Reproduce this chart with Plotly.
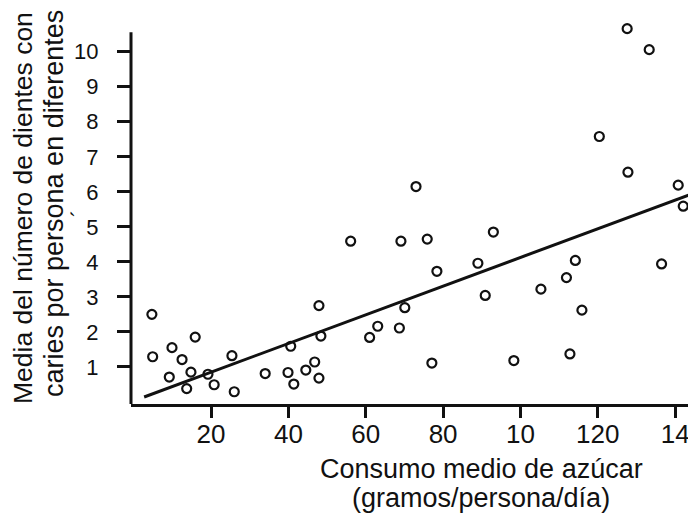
import plotly.graph_objects as go

# Data
sugar = [4.7, 4.9, 9.9, 15.9, 12.5, 9.2, 14.8, 19.2, 13.7, 20.8, 25.4, 26.0,
         34.0, 39.9, 41.4, 44.5, 46.8, 47.9, 40.6, 48.4, 47.9,
         61.0, 63.1, 68.7, 70.1, 77.1, 78.4, 89.0, 90.9, 93.0, 56.1, 69.1,
         75.9, 73.0, 98.3, 105.3, 111.9, 114.2, 115.9, 112.8, 120.4, 127.8,
         127.6, 133.3, 136.5, 140.8, 142.1]
caries = [2.50, 1.29, 1.55, 1.85, 1.21, 0.71, 0.85, 0.79, 0.38, 0.49, 1.32, 0.29,
          0.81, 0.84, 0.51, 0.91, 1.14, 0.68, 1.59, 1.88, 2.75,
          1.84, 2.16, 2.11, 2.69, 1.11, 3.73, 3.96, 3.04, 4.85, 4.59, 4.59,
          4.65, 6.15, 1.18, 3.22, 3.55, 4.04, 2.62, 1.37, 7.58, 6.56,
          10.66, 10.06, 3.94, 6.19, 5.59]

fit_x = [2.7, 146.0]
fit_y = [0.14, 6.01]

x_tickvals = [20, 40, 60, 80, 100, 120, 140]
x_ticktext = ["20", "40", "60", "80", "10", "120", "14"]
y_tickvals = [1, 2, 3, 4, 5, 6, 7, 8, 9, 10]
y_ticktext = ["1", "2", "3", "4", "5", "6", "7", "8", "9", "10"]

x_title = ["Consumo medio de azúcar", "(gramos/persona/día)"]
y_title = ["Media del número de dientes con", "caries por persona en diferentes"]

FONT = "Liberation Sans, Arial, sans-serif"
INK = "#111111"

Y_RANGE = [-0.06, 10.85]
Y_AXIS_TOP = 10.56

OFF = 8  # page body margin in the browser
W, H = 696 - OFF, 518 - OFF
L, R, T, B = 131 - OFF, 0, 22 - OFF, 114
PW, PH = W - L - R, H - T - B


def px(xp):
    return (xp - OFF - L) / PW


def py(yp):
    return (H - B - (yp - OFF)) / PH


fig = go.Figure()
fig.add_trace(go.Scatter(
    x=sugar, y=caries, mode="markers",
    marker=dict(symbol="circle-open", size=9, color=INK,
                line=dict(width=2.2, color=INK)),
    showlegend=False, hoverinfo="skip", cliponaxis=False))
fig.add_trace(go.Scatter(
    x=fit_x, y=fit_y, mode="lines",
    line=dict(color=INK, width=3),
    showlegend=False, hoverinfo="skip"))

fig.update_layout(
    width=W, height=H,
    margin=dict(l=L, r=R, t=T, b=B, pad=0),
    paper_bgcolor="white", plot_bgcolor="white",
    font=dict(family=FONT, color=INK),
    xaxis=dict(range=[-0.7, 145.4], showgrid=False, zeroline=False,
               showline=True, linewidth=3, linecolor=INK,
               ticks="outside", ticklen=11, tickwidth=3, tickcolor=INK,
               tickvals=x_tickvals, ticktext=x_ticktext,
               tickfont=dict(size=26, family=FONT, color=INK),
               ticklabelstandoff=-6),
    yaxis=dict(range=Y_RANGE, showgrid=False, zeroline=False,
               showline=False,
               ticks="outside", ticklen=13, tickwidth=3, tickcolor=INK,
               tickvals=y_tickvals, ticktext=y_ticktext,
               tickfont=dict(size=22, family=FONT, color=INK),
               ticklabelstandoff=14),
)

# vertical axis line (stops below the highest point, as in the reference)
fig.add_shape(type="line", xref="paper", yref="y", x0=0, x1=0,
              y0=Y_RANGE[0], y1=Y_AXIS_TOP,
              line=dict(color=INK, width=3), layer="above")

# Axis titles as separate text lines
fig.add_annotation(text=x_title[0], xref="paper", yref="paper",
                   x=px(481), y=py(469), xanchor="center", yanchor="middle",
                   showarrow=False, font=dict(size=27, family=FONT, color=INK))
fig.add_annotation(text=x_title[1], xref="paper", yref="paper",
                   x=px(481), y=py(498), xanchor="center", yanchor="middle",
                   showarrow=False, font=dict(size=27, family=FONT, color=INK))
fig.add_annotation(text=y_title[0], xref="paper", yref="paper",
                   x=px(23), y=py(208), xanchor="center", yanchor="middle",
                   textangle=-90, showarrow=False,
                   font=dict(size=26.5, family=FONT, color=INK))
fig.add_annotation(text=y_title[1], xref="paper", yref="paper",
                   x=px(54), y=py(204), xanchor="center", yanchor="middle",
                   textangle=-90, showarrow=False,
                   font=dict(size=27, family=FONT, color=INK))
fig.add_annotation(text="´", xref="paper", yref="paper",
                   x=px(79), y=py(214), xanchor="center", yanchor="middle",
                   textangle=-90, showarrow=False,
                   font=dict(size=22, family=FONT, color=INK))

fig.write_html("out.html")
